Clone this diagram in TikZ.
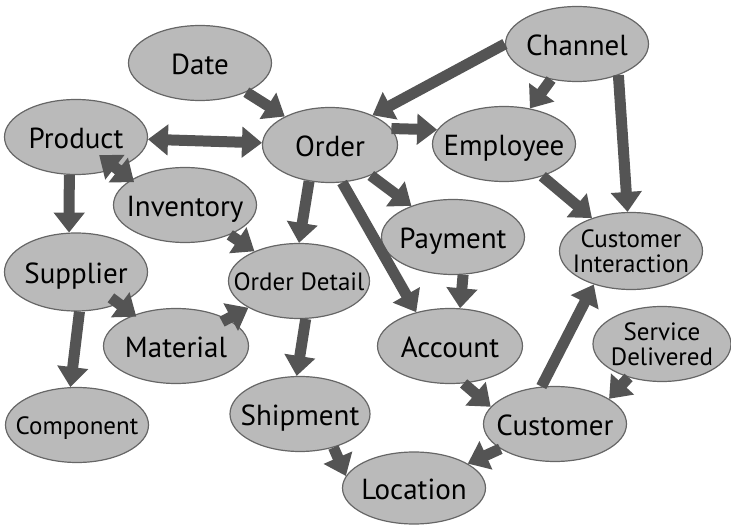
\documentclass[tikz,border=0pt]{standalone}
\usepackage{fontspec}
\setmainfont{PT Sans}
\usetikzlibrary{shapes.geometric, arrows.meta}
\tikzset{>={Triangle[length=20pt,width=30pt]}}
\tikzset{
  entity/.style={ellipse, draw=black!60, line width=1.2pt, fill=black!27,
    minimum width=143pt, minimum height=75pt, inner sep=0pt,
    font=\fontsize{29}{30}\selectfont},
  smallent/.style={entity, font=\fontsize{25}{22}\selectfont},
  link/.style={draw=black!67, line width=11pt, ->},
}
\newcommand{\ename}[1]{\makebox[0pt]{\raisebox{-0.39em}[0pt][0pt]{\begin{tabular}{@{}c@{}}#1\end{tabular}}}}

\begin{document}
\begin{tikzpicture}[x=1pt, y=-1pt]
    \useasboundingbox (0,0) rectangle (731,526);
    % entities
    \node[entity] (Date) at (200,63) {\ename{Date}};
    \node[entity] (Product) at (76,137) {\ename{Product}};
    \node[entity, minimum width=135pt] (Order) at (330,145) {\ename{Order}};
    \node[entity] (Channel) at (577,44) {\ename{Channel}};
    \node[entity] (Employee) at (504,144) {\ename{Employee}};
    \node[entity] (Inventory) at (185,205) {\ename{Inventory}};
    \node[entity] (Payment) at (453,237) {\ename{Payment}};
    \node[smallent, minimum height=77pt] (CustInt) at (631,251) {\ename{Customer\\Interaction}};
    \node[entity, minimum height=78pt] (Supplier) at (76,272) {\ename{Supplier}};
    \node[smallent, minimum width=141pt] (OrdDet) at (299,281) {\ename{Order Detail}};
    \node[entity, minimum width=145pt] (Material) at (176,346) {\ename{Material}};
    \node[entity, minimum width=145pt] (Account) at (450,346) {\ename{Account}};
    \node[smallent, minimum width=138pt] (SerDel) at (662,344) {\ename{Service\\Delivered}};
    \node[smallent] (Component) at (77,425) {\ename{Component}};
    \node[entity, minimum width=140pt] (Shipment) at (300,414) {\ename{Shipment}};
    \node[entity] (Customer) at (555,424) {\ename{Customer}};
    \node[entity, minimum height=72pt] (Location) at (414,488) {\ename{Location}};
    % links
    \draw[link] (Date) -- (Order);
    \draw[link, <->] (Product) -- (Order);
    \draw[link, <->, shorten <=-22pt, shorten >=-4pt] (Product) -- (Inventory.155);
    \draw[link] (Product.260) -- (Supplier.100);
    \draw[link] (Inventory) -- (OrdDet);
    \draw[link] (Order.240) -- (OrdDet.north);
    \draw[link] (Order) -- (Payment);
    \draw[link] (Order.-72) -- (Account.135);
    \draw[link] (Order.15) -- (Employee.168);
    \draw[link] (Channel.west) -- (Order.35);
    \draw[link] (Channel) -- (Employee);
    \draw[link] (Channel.-37) -- (CustInt.95);
    \draw[link] (Employee) -- (CustInt);
    \draw[link] (Payment.-75) -- (Account.75);
    \draw[link] (Supplier.-85) -- (Component.100);
    \draw[link, shorten <=-10pt, shorten >=-3pt] (Supplier) -- (Material);
    \draw[link, shorten <=-6pt] (Material) -- (OrdDet);
    \draw[link] (OrdDet.-80) -- (Shipment.95);
    \draw[link] (Shipment.-45) -- (Location.170);
    \draw[link] (Customer) -- (Location);
    \draw[link] (Account.-70) -- (Customer.165);
    \draw[link] (Customer.110) -- (CustInt.222);
    \draw[link] (SerDel.-135) -- (Customer.25);
\end{tikzpicture}
\end{document}
